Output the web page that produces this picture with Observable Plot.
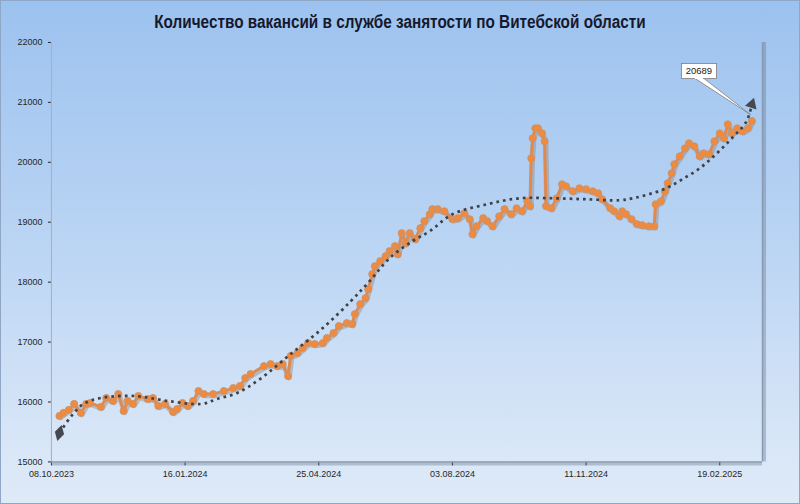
<!DOCTYPE html>
<html>
<head>
<meta charset="utf-8">
<script src="https://cdn.jsdelivr.net/npm/d3@7"></script>
<script src="https://cdn.jsdelivr.net/npm/@observablehq/plot@0.6"></script>
<style>
  html, body { margin: 0; padding: 0; background: #fff; }
  #wrap {
    position: relative; width: 800px; height: 504px; box-sizing: border-box;
    border: 1px solid #8fa6c4;
    background: linear-gradient(to bottom, #9cc2ef 0%, #b8d3f3 45%, #d6e5f7 85%, #dfeaf8 100%);
    overflow: hidden;
  }
  #title {
    position: absolute; left: 0; right: 0; top: 11px; text-align: center;
    font-family: "Liberation Sans", Arial, sans-serif;
    font-weight: bold; font-size: 17.5px; color: #16182c;
    transform: scaleX(0.875); transform-origin: 50% 50%;
  }
  #chart { position: absolute; left: -1px; top: -1px; }
</style>
</head>
<body>
<div id="wrap">
  <div id="title">Количество вакансий в службе занятости по Витебской области</div>
  <div id="chart"></div>
</div>
<script>
const dates = [
"2023-10-14","2023-10-17","2023-10-21","2023-10-25","2023-10-30","2023-11-03","2023-11-06","2023-11-14","2023-11-18","2023-11-23",
"2023-11-27","2023-12-01","2023-12-04","2023-12-08","2023-12-12","2023-12-19","2023-12-23","2023-12-27","2024-01-01","2024-01-07",
"2024-01-10","2024-01-14","2024-01-18","2024-01-22","2024-01-26","2024-01-30","2024-02-06","2024-02-14","2024-02-21","2024-02-26",
"2024-03-01","2024-03-05","2024-03-15","2024-03-20","2024-03-25","2024-03-29","2024-04-02","2024-04-04","2024-04-09","2024-04-13",
"2024-04-17","2024-04-22","2024-04-28","2024-05-01","2024-05-06","2024-05-10","2024-05-16","2024-05-20","2024-05-22","2024-05-26",
"2024-05-30","2024-06-01","2024-06-04","2024-06-06","2024-06-10","2024-06-14","2024-06-17","2024-06-21","2024-06-23","2024-06-26",
"2024-06-29","2024-07-02","2024-07-06","2024-07-10","2024-07-13","2024-07-17","2024-07-19","2024-07-23","2024-07-28","2024-08-03",
"2024-08-07","2024-08-12","2024-08-16","2024-08-18","2024-08-21","2024-08-26","2024-08-29","2024-09-02","2024-09-07","2024-09-11",
"2024-09-16","2024-09-20","2024-09-24","2024-09-28","2024-09-30","2024-10-01","2024-10-02","2024-10-04","2024-10-06","2024-10-09",
"2024-10-11","2024-10-12","2024-10-16","2024-10-20","2024-10-24","2024-10-27","2024-11-01","2024-11-06","2024-11-11","2024-11-16",
"2024-11-20","2024-11-23","2024-11-29","2024-12-02","2024-12-06","2024-12-08","2024-12-11","2024-12-15","2024-12-19","2024-12-23",
"2024-12-28","2025-01-01","2025-01-02","2025-01-06","2025-01-09","2025-01-11","2025-01-14","2025-01-16","2025-01-20","2025-01-24",
"2025-01-27","2025-01-31","2025-02-04","2025-02-07","2025-02-11","2025-02-15","2025-02-19","2025-02-22","2025-02-25","2025-02-28",
"2025-03-04","2025-03-08","2025-03-12","2025-03-15"
];
const vacancies = [
15767,15817,15867,15967,15817,15967,15983,15917,16067,16017,
16133,15850,16017,15967,16100,16050,16067,15933,15967,15833,
15883,15983,15933,16017,16183,16133,16133,16183,16233,16267,
16400,16467,16600,16633,16600,16633,16433,16767,16817,16900,
16983,16967,16983,17067,17150,17267,17317,17300,17467,17633,
17733,17883,18133,18267,18350,18433,18517,18600,18467,18817,
18650,18817,18717,18900,19017,19133,19217,19217,19183,19050,
19067,19150,19050,18800,18933,19067,19017,18933,19100,19217,
19133,19233,19183,19350,19267,20067,20400,20567,20567,20483,
20350,19267,19233,19400,19633,19600,19517,19567,19550,19517,
19483,19383,19233,19183,19100,19183,19133,19050,18967,18950,
18933,18933,19300,19350,19517,19650,19817,19967,20100,20233,
20317,20267,20100,20150,20133,20350,20483,20400,20633,20483,
20567,20517,20567,20689
];
// Dotted polynomial trend line
const trendDates = [
"2023-10-14","2023-10-23","2023-11-01","2023-11-14","2023-12-09","2024-01-03","2024-01-28","2024-02-09","2024-02-24","2024-03-12",
"2024-04-04","2024-04-28","2024-05-19","2024-06-02","2024-06-17","2024-07-04","2024-07-17","2024-08-03","2024-08-29","2024-09-22",
"2024-10-17","2024-11-11","2024-12-06","2024-12-16","2024-12-28","2025-01-10","2025-01-22","2025-02-04","2025-02-16","2025-02-28",
"2025-03-11","2025-03-15"
];
const trendValues = [
15483,15767,15967,16067,16100,16017,15967,16050,16150,16383,
16800,17233,17683,18017,18400,18683,18850,19133,19300,19400,
19400,19383,19367,19400,19467,19567,19717,19900,20133,20400,
20683,20967
];
const xTickDates = ["2023-10-08","2024-01-16","2024-04-25","2024-08-03","2024-11-11","2025-02-19"];
const yTicks = [15000,16000,17000,18000,19000,20000,21000,22000];
const xDomain = ["2023-10-08","2025-03-23"];
const calloutLabel = "20689";

const data = dates.map((d, i) => ({date: new Date(d), value: vacancies[i]}));
const trend = trendDates.map((d, i) => ({date: new Date(d), value: trendValues[i]}));
const last = data[data.length - 1];
const fmt = d3.utcFormat("%d.%m.%Y");

const chart = Plot.plot({
  width: 800, height: 504,
  marginLeft: 51, marginRight: 37, marginTop: 42, marginBottom: 42,
  style: {background: "transparent", fontFamily: "Liberation Sans, Arial, sans-serif", fontSize: "9px", color: "#262626"},
  x: {type: "utc", domain: xDomain.map(d => new Date(d)), ticks: xTickDates.map(d => new Date(d)), tickFormat: fmt, tickSize: 4, tickPadding: 5, label: null},
  y: {domain: [15000, 22000], ticks: yTicks, tickFormat: d => String(d), tickSize: 3, tickPadding: 6, label: null},
  marks: [
    Plot.ruleX([new Date(xDomain[1])], {stroke: "#5d6e86", strokeWidth: 3, strokeOpacity: 0.35, dx: 2}),
    Plot.ruleX([new Date(xDomain[1])], {stroke: "#8899b0", strokeWidth: 1.5}),
    Plot.ruleX([new Date(xDomain[0])], {stroke: "#a3b0c2", strokeWidth: 1}),
    Plot.ruleY([15000], {stroke: "#5d6e86", strokeWidth: 3, strokeOpacity: 0.35, dy: 2}),
    Plot.ruleY([15000], {stroke: "#8a97a8", strokeWidth: 1.5}),
    Plot.line(data, {x: "date", y: "value", stroke: "#8f8a88", strokeWidth: 5.5, strokeOpacity: 0.45, dx: 1, dy: 1.5}),
    Plot.line(data, {x: "date", y: "value", stroke: "#e3874a", strokeWidth: 2.8}),
    Plot.dot(data, {x: "date", y: "value", r: 3.6, fill: "#ef8a3e", stroke: "#c49474", strokeWidth: 0.8}),
    Plot.line(trend, {x: "date", y: "value", curve: "catmull-rom", stroke: "#3e4248", strokeWidth: 2.7, strokeLinecap: "butt", strokeDasharray: "2.7 4"}),
    Plot.dot([trend[0]], {x: "date", y: "value", symbol: "diamond", r: 5, fill: "#45494f", rotate: 15}),
    Plot.dot([trend[trend.length - 1]], {x: "date", y: "value", symbol: "triangle", r: 4.5, fill: "#45494f", rotate: 18})
  ]
});
document.getElementById("chart").appendChild(chart);

// Callout for the last value
const sx = chart.scale("x"), sy = chart.scale("y");
const px = sx.apply(last.date), py = sy.apply(last.value);
const bx = px - 70, by = py - 57, bw = 35, bh = 15;
const g = d3.select(chart).append("g");
g.append("polygon")
  .attr("points", `${bx + 13},${by + bh - 0.5} ${bx + 22},${by + bh - 0.5} ${px - 1},${py - 6}`)
  .attr("fill", "#ffffff").attr("stroke", "#7f7f7f").attr("stroke-width", 0.8);
g.append("rect").attr("x", bx).attr("y", by).attr("width", bw).attr("height", bh)
  .attr("fill", "#ffffff").attr("stroke", "#7f7f7f").attr("stroke-width", 0.8);
g.append("rect").attr("x", bx + 13.4).attr("y", by + bh - 1.2).attr("width", 8.2).attr("height", 1.6).attr("fill", "#ffffff");
g.append("text").attr("x", bx + bw / 2).attr("y", by + bh / 2).attr("dy", "0.35em")
  .attr("text-anchor", "middle").attr("font-size", 9.5).attr("fill", "#1a1a1a")
  .attr("font-family", "Liberation Sans, Arial, sans-serif").text(calloutLabel);
</script>
</body>
</html>
